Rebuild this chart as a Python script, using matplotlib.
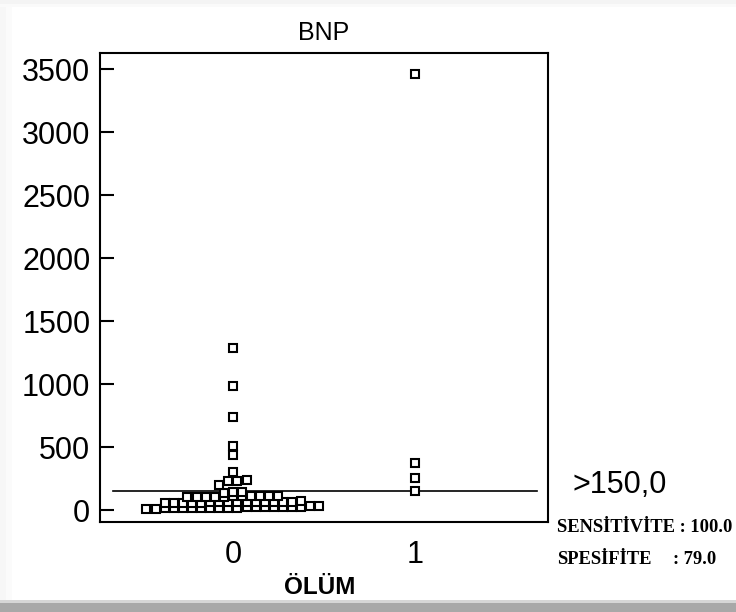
import numpy as np
import matplotlib.pyplot as plt
from matplotlib.patches import Rectangle

# BNP değerleri (ÖLÜM = 0 / 1)
bnp_0 = [10, 12, 14, 15, 15, 16, 17, 18, 18, 20, 20, 21, 22, 22, 24, 25, 26, 28, 30, 32,
         55, 56, 57, 58, 58, 60, 60, 61, 62, 62, 63, 64, 65, 66, 67, 68,
         100, 102, 104, 105, 106, 108, 110, 110, 112, 114, 115,
         135, 140, 145,
         200, 228, 232, 236, 300, 440, 505, 735, 985, 1285]
bnp_1 = [150, 255, 370, 3460]
groups = [0, 1]
cutoff = 150
yticks = [0, 500, 1000, 1500, 2000, 2500, 3000, 3500]


def swarm_x(center, vals, bin_w=40, d=0.05):
    # noktaları değer aralıklarına göre yatayda yan yana diz
    vals = np.asarray(vals, dtype=float)
    xs = np.empty(len(vals))
    bins = np.floor(vals / bin_w)
    for b in np.unique(bins):
        idx = np.where(bins == b)[0]
        n = len(idx)
        xs[idx] = center + (np.arange(n) - (n - 1) / 2) * d
    return xs


fig = plt.figure(figsize=(7.36, 6.12), dpi=100)
fig.patch.set_facecolor('white')

# çerçeve gölgesi
def shade(x, y, w, h, c):
    fig.patches.append(Rectangle((x / 736, 1 - (y + h) / 612), w / 736, h / 612,
                                 transform=fig.transFigure, facecolor=c,
                                 edgecolor='none', zorder=-1))

shade(0, 0, 6, 612, '#f7f7f7')
shade(6, 0, 6, 612, '#fbfbfb')
shade(0, 0, 736, 4, '#f4f4f4')
shade(0, 4, 736, 3, '#fafafa')
shade(0, 600, 736, 3, '#d6d6d6')
shade(0, 603, 736, 9, '#a8a8a8')

ax = fig.add_axes([100 / 736, 1 - 522 / 612, 448 / 736, 469 / 612])

for g, vals in zip(groups, [bnp_0, bnp_1]):
    ax.plot(swarm_x(g, vals), vals, linestyle='none', marker='s', markersize=6.3,
            markerfacecolor='white', markeredgecolor='black', markeredgewidth=1.5)

ax.plot([-0.66, 1.67], [cutoff, cutoff], color='black', linewidth=1.2, zorder=1)

ax.set_xlim(-0.73, 1.73)
ax.set_ylim(-95, 3630)
ax.set_xticks(groups)
ax.set_yticks(yticks)

for sp in ax.spines.values():
    sp.set_linewidth(1.5)

ax.tick_params(axis='y', direction='in', length=10, width=1.5, pad=7, labelsize=22)
ax.tick_params(axis='x', length=0, pad=13, labelsize=22)
for lab in ax.get_xticklabels() + ax.get_yticklabels():
    lab.set_family('Liberation Sans')

ax.set_title('BNP', fontsize=18, family='Liberation Sans', pad=9)

fig.text(320 / 736, 1 - 588 / 612, 'ÖLÜM', ha='center', va='center',
         fontsize=17.5, fontweight='bold', family='Liberation Sans')
fig.text(573 / 736, 1 - 485 / 612, '>150,0', ha='left', va='center',
         fontsize=22, family='Liberation Sans')
fig.text(557 / 736, 1 - 527 / 612, 'SENSİTİVİTE : 100.0', ha='left', va='center',
         fontsize=13.3, fontweight='bold', family='Liberation Serif')
fig.text(557 / 736, 1 - 560 / 612, 'SPESİFİTE', ha='left', va='center',
         fontsize=13.3, fontweight='bold', family='Liberation Serif')
fig.text(673 / 736, 1 - 560 / 612, ': 79.0', ha='left', va='center',
         fontsize=13.3, fontweight='bold', family='Liberation Serif')

fig.savefig('out.png', dpi=100)
